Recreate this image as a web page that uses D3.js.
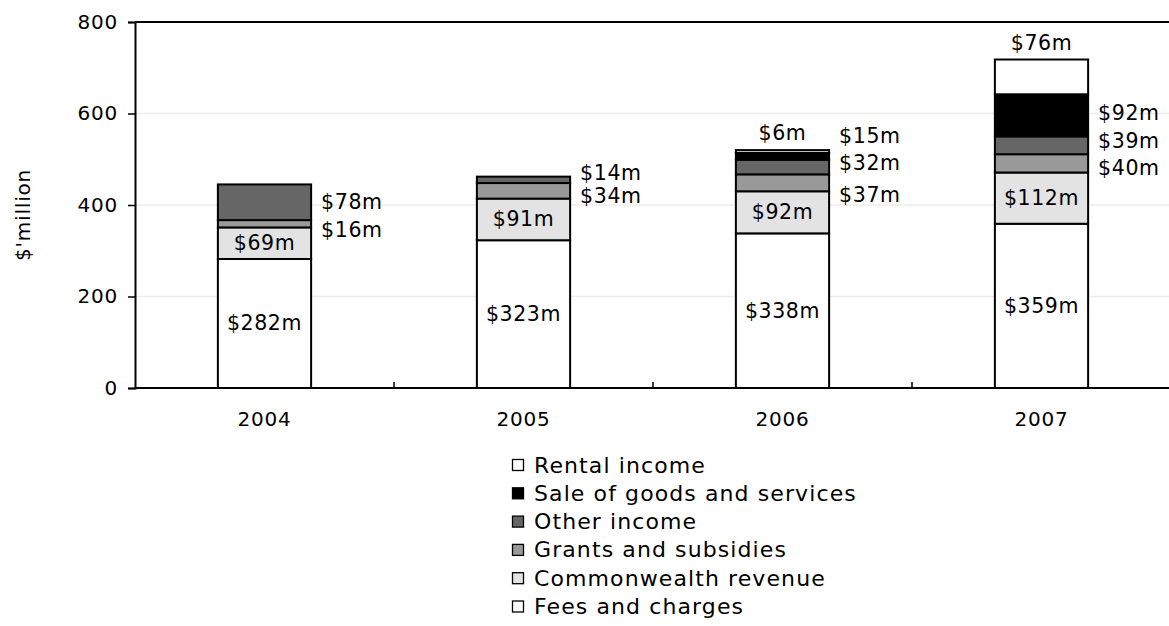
<!DOCTYPE html>
<html>
<head>
<meta charset="utf-8">
<script src="https://cdn.jsdelivr.net/npm/d3@7"></script>
<style>
  html, body { margin: 0; padding: 0; background: #fff; }
  svg { display: block; font-family: Verdana, "DejaVu Sans", sans-serif; }
</style>
</head>
<body>
<svg id="chart" width="1169" height="626"></svg>
<script>
// Revenue by source, $ million
const years = ["2004", "2005", "2006", "2007"];
const feesAndCharges = [282, 323, 338, 359];
const commonwealthRevenue = [69, 91, 92, 112];
const grantsAndSubsidies = [16, 34, 37, 40];
const otherIncome = [78, 14, 32, 39];
const saleOfGoods = [0, 0, 15, 92];
const rentalIncome = [0, 0, 6, 76];
const yTicks = [0, 200, 400, 600, 800];

// Stack order, bottom to top
const series = [
  { key: "fees", name: "Fees and charges", values: feesAndCharges, fill: "#ffffff", label: "inside" },
  { key: "cw", name: "Commonwealth revenue", values: commonwealthRevenue, fill: "#e3e3e3", label: "inside" },
  { key: "grants", name: "Grants and subsidies", values: grantsAndSubsidies, fill: "#999999", label: "right" },
  { key: "other", name: "Other income", values: otherIncome, fill: "#666666", label: "right" },
  { key: "sales", name: "Sale of goods and services", values: saleOfGoods, fill: "#000000", label: "right" },
  { key: "rental", name: "Rental income", values: rentalIncome, fill: "#ffffff", label: "top" }
];

// Small vertical nudges (px) that keep the side labels from colliding
const labelNudge = {
  grants: [6, 5, 12, 5],
  other:  [0, -7, -4, -4],
  sales:  [0, 0, -20, -2],
  rental: [0, 0, 0, 0]
};

const svg = d3.select("#chart");
const margin = { left: 135, right: -2, top: 22, bottom: 238 };
const W = 1169, H = 626;

const x = d3.scaleBand().domain(years)
  .range([margin.left, W - margin.right])
  .paddingInner(0.64).paddingOuter(0.32);
const y = d3.scaleLinear().domain([0, 800]).range([H - margin.bottom, margin.top]);

// Gridlines
svg.append("g").selectAll("line")
  .data(yTicks.filter(t => t > 0 && t < 800))
  .join("line")
  .attr("x1", margin.left).attr("x2", W)
  .attr("y1", d => y(d)).attr("y2", d => y(d))
  .attr("stroke", "#ececec").attr("stroke-width", 1.5);

// Top border of plot area
svg.append("line")
  .attr("x1", margin.left).attr("x2", W)
  .attr("y1", y(800)).attr("y2", y(800))
  .attr("stroke", "#000").attr("stroke-width", 2);

// Stacked data
const rows = years.map((yr, i) => {
  const r = { year: yr };
  series.forEach(s => r[s.key] = s.values[i]);
  return r;
});
const stack = d3.stack().keys(series.map(s => s.key))(rows);

const bars = svg.append("g");
stack.forEach((layer, li) => {
  const s = series[li];
  bars.selectAll(null)
    .data(layer.filter(d => d[1] - d[0] > 0))
    .join("rect")
    .attr("x", d => x(d.data.year))
    .attr("width", x.bandwidth())
    .attr("y", d => y(d[1]))
    .attr("height", d => y(d[0]) - y(d[1]))
    .attr("fill", s.fill)
    .attr("stroke", "#000")
    .attr("stroke-width", 2);
});

// Value labels
const labels = svg.append("g")
  .attr("font-size", 20.5)
  .attr("letter-spacing", 0.6)
  .attr("fill", "#000");
stack.forEach((layer, li) => {
  const s = series[li];
  layer.forEach((d, i) => {
    const v = d[1] - d[0];
    if (v <= 0) return;
    const fmt = "$" + v + "m";
    const cx = x(d.data.year) + x.bandwidth() / 2;
    const cy = (y(d[0]) + y(d[1])) / 2;
    let t;
    if (s.label === "inside") {
      t = labels.append("text").attr("x", cx).attr("y", cy)
        .attr("text-anchor", "middle");
    } else if (s.label === "top") {
      t = labels.append("text").attr("x", cx).attr("y", y(d[1]) - 17)
        .attr("text-anchor", "middle");
    } else {
      t = labels.append("text")
        .attr("x", x(d.data.year) + x.bandwidth() + 10)
        .attr("y", cy + labelNudge[s.key][i])
        .attr("text-anchor", "start");
    }
    t.attr("dominant-baseline", "central").text(fmt);
  });
});

// Y axis
const yAxis = svg.append("g")
  .attr("transform", `translate(${margin.left},0)`)
  .call(d3.axisLeft(y).tickValues(yTicks).tickSize(7).tickPadding(10));
yAxis.select(".domain").attr("stroke-width", 2);
yAxis.selectAll(".tick line").attr("stroke-width", 1.5);
yAxis.selectAll(".tick text")
  .attr("font-size", 20).attr("letter-spacing", 0.8)
  .attr("font-family", "Verdana, 'DejaVu Sans', sans-serif");

// X axis: inward tick marks at category boundaries
const xAxisY = y(0);
svg.append("line")
  .attr("x1", margin.left).attr("x2", W)
  .attr("y1", xAxisY).attr("y2", xAxisY)
  .attr("stroke", "#000").attr("stroke-width", 2);
svg.append("g").selectAll("line")
  .data(years.slice(1))
  .join("line")
  .attr("x1", d => x(d) - x.step() * x.paddingInner() / 2)
  .attr("x2", d => x(d) - x.step() * x.paddingInner() / 2)
  .attr("y1", xAxisY).attr("y2", xAxisY - 6)
  .attr("stroke", "#000").attr("stroke-width", 1.5);
svg.append("g").selectAll("text")
  .data(years)
  .join("text")
  .attr("x", d => x(d) + x.bandwidth() / 2)
  .attr("y", xAxisY + 31)
  .attr("text-anchor", "middle")
  .attr("dominant-baseline", "central")
  .attr("font-size", 20).attr("letter-spacing", 0.8)
  .text(d => d);

// Y axis title
svg.append("text")
  .attr("transform", `translate(23,${(y(800) + y(0)) / 2 + 10}) rotate(-90)`)
  .attr("text-anchor", "middle")
  .attr("dominant-baseline", "central")
  .attr("font-size", 20).attr("letter-spacing", 0.8)
  .text("$'million");

// Legend, top to bottom in reverse stack order
const legendItems = series.slice().reverse();
const legend = svg.append("g").attr("transform", "translate(512,465)");
const li = legend.selectAll("g").data(legendItems).join("g")
  .attr("transform", (d, i) => `translate(0,${i * 28.3})`);
li.append("rect")
  .attr("x", 0.5).attr("y", -5.5).attr("width", 11).attr("height", 11)
  .attr("fill", d => d.fill).attr("stroke", "#000").attr("stroke-width", 1.3);
li.append("text")
  .attr("x", 22).attr("y", 0)
  .attr("dominant-baseline", "central")
  .attr("font-size", 22).attr("letter-spacing", 1.1)
  .text(d => d.name);
</script>
</body>
</html>
